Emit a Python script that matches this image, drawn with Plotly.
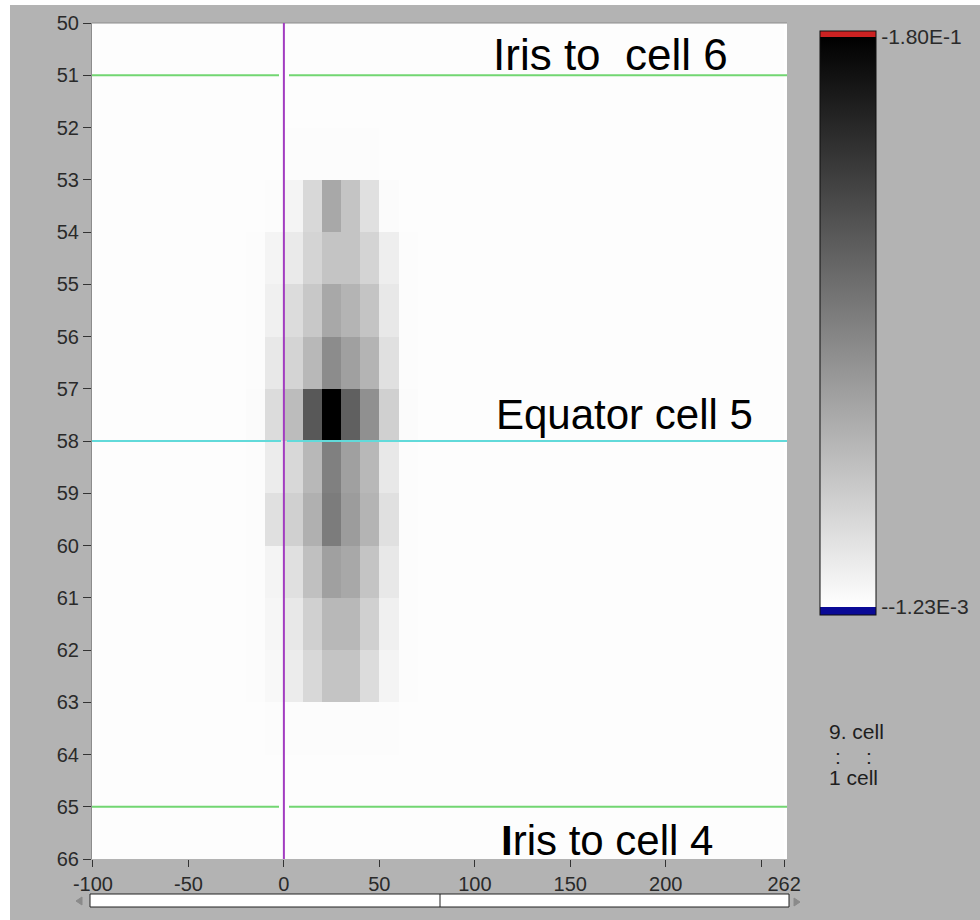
import numpy as np
import plotly.graph_objects as go

# ---------------- data ----------------
x_edges = list(range(-100, 261, 10)) + [262]          # column bin edges
y_edges = list(range(50, 67))                          # row bin edges (cells)
y_ticks = list(range(50, 67))
x_tickvals = [-100, -50, 0, 50, 100, 150, 200, 250, 262]
x_ticktext = ["-100", "-50", "0", "50", "100", "150", "200", "", "262"]

background_level = 0.0004
core_cols = [-20, -10, 0, 10, 20, 30, 40, 50, 60]       # left edge of each core column
core_rows = [52, 53, 54, 55, 56, 57, 58, 59, 60, 61, 62, 63]
core_values = [
    [0.0004, 0.0004, 0.0005, 0.0006, 0.0006, 0.0006, 0.0005, 0.0004, 0.0004],
    [0.0004, 0.0006, 0.0066, 0.0265, 0.0606, 0.0407, 0.0208, 0.0018, 0.0004],
    [0.0008, 0.0066, 0.0137, 0.0293, 0.0407, 0.0407, 0.0293, 0.0108, 0.0008],
    [0.0008, 0.0094, 0.0236, 0.0378, 0.0606, 0.0521, 0.0407, 0.0151, 0.0008],
    [0.0010, 0.0151, 0.0293, 0.0492, 0.0805, 0.0663, 0.0521, 0.0208, 0.0010],
    [0.0012, 0.0236, 0.0464, 0.1175, 0.1800, 0.1118, 0.0776, 0.0322, 0.0012],
    [0.0010, 0.0123, 0.0265, 0.0492, 0.0890, 0.0663, 0.0492, 0.0151, 0.0010],
    [0.0010, 0.0208, 0.0322, 0.0549, 0.0919, 0.0691, 0.0521, 0.0208, 0.0010],
    [0.0008, 0.0066, 0.0208, 0.0435, 0.0663, 0.0606, 0.0407, 0.0151, 0.0008],
    [0.0006, 0.0052, 0.0151, 0.0322, 0.0492, 0.0492, 0.0322, 0.0094, 0.0006],
    [0.0006, 0.0037, 0.0123, 0.0265, 0.0407, 0.0407, 0.0236, 0.0066, 0.0006],
    [0.0004, 0.0005, 0.0006, 0.0008, 0.0009, 0.0009, 0.0008, 0.0005, 0.0004],
]
scale_max = 0.18
scale_min = -0.00123
scale_labels = ["-1.80E-1", "--1.23E-3"]

# ---------------- build grid ----------------
n_rows = len(y_edges) - 1
n_cols = len(x_edges) - 1
z = np.full((n_rows, n_cols), background_level)
for i, r in enumerate(core_rows):
    for j, c in enumerate(core_cols):
        z[r - y_edges[0], x_edges.index(c)] = core_values[i][j]

# ---------------- geometry helpers ----------------
L, R, T, B = 92, 787, 23, 859
W, H = R - L, B - T
X0, X1 = -100.5, 263.5


def px(x):
    return (x - L) / W


def py(y):
    return 1 - (y - T) / H


def dx(x):
    return X0 + (x - L) * (X1 - X0) / W


def dy(y):
    return 50 + (y - T) * 16 / H


# colour bar geometry: bar 31..615 px; data max at 37, min at 607
cb_top, cb_bot = 31, 615
per_px = (scale_max - scale_min) / (607 - 37)
cmax = scale_max + (37 - cb_top) * per_px
cmin = scale_min - (cb_bot - 607) * per_px
f_hi = (scale_max - cmin) / (cmax - cmin) + 0.0008
f_lo = (scale_min - cmin) / (cmax - cmin) - 0.0008
colorscale = [
    [0.0, "#0a0a96"], [f_lo, "#0a0a96"],
    [f_lo + 0.0001, "#ffffff"],
    [f_hi - 0.0001, "#000000"],
    [f_hi, "#cc2222"], [1.0, "#cc2222"],
]

FAM = "Liberation Sans, Arial, sans-serif"
tick_font = dict(family=FAM, size=20, color="#2a2a2a")
cb_font = dict(family=FAM, size=21, color="#2a2a2a")

fig = go.Figure()
fig.add_trace(go.Heatmap(
    x=x_edges, y=y_edges, z=z,
    zmin=cmin, zmax=cmax, colorscale=colorscale,
    hoverinfo="skip",
    colorbar=dict(
        thickness=56, thicknessmode="pixels",
        len=cb_bot - cb_top, lenmode="pixels",
        x=px(820), xanchor="left", xpad=0,
        y=py(cb_top), yanchor="top", ypad=0,
        outlinecolor="#111111", outlinewidth=1,
        tickvals=[scale_max, scale_min], ticktext=scale_labels,
        ticks="", ticklen=0, tickfont=cb_font,
    ),
))

shapes = []
# white strips at top and left of the window
shapes.append(dict(type="rect", xref="paper", yref="paper", x0=px(0), x1=px(980), y0=py(5), y1=py(0),
                   fillcolor="white", line=dict(width=0), layer="below"))
shapes.append(dict(type="rect", xref="paper", yref="paper", x0=px(0), x1=px(10), y0=py(920), y1=py(0),
                   fillcolor="white", line=dict(width=0), layer="below"))
# plot border (top)
shapes.append(dict(type="line", xref="paper", yref="paper", x0=0, x1=1, y0=1, y1=1,
                   line=dict(color="#8c8c8c", width=1)))
# green / cyan horizontal lines with a gap at x=0
for yy, col, gl, gr in [(51, "#72d672", 279, 289), (65, "#72d672", 279, 289), (58, "#62dada", 281, 287)]:
    shapes.append(dict(type="line", xref="x", yref="y", x0=X0, x1=dx(gl), y0=yy, y1=yy,
                       line=dict(color=col, width=2)))
    shapes.append(dict(type="line", xref="x", yref="y", x0=dx(gr), x1=X1, y0=yy, y1=yy,
                       line=dict(color=col, width=2)))
# magenta vertical line at x = 0
shapes.append(dict(type="line", xref="x", yref="y", x0=0, x1=0, y0=50, y1=66,
                   line=dict(color="#a23cc0", width=2)))
# scrollbar
shapes.append(dict(type="rect", xref="paper", yref="paper", x0=px(90), x1=px(789), y0=py(907), y1=py(894),
                   fillcolor="white", line=dict(color="#222222", width=1)))
shapes.append(dict(type="line", xref="paper", yref="paper", x0=px(440), x1=px(440), y0=py(907), y1=py(894),
                   line=dict(color="#222222", width=1)))
shapes.append(dict(type="path", xref="paper", yref="paper",
                   path=f"M {px(76)} {py(901)} L {px(82)} {py(897)} L {px(82)} {py(905)} Z",
                   fillcolor="#8a8a8a", line=dict(color="#8a8a8a", width=1)))
shapes.append(dict(type="path", xref="paper", yref="paper",
                   path=f"M {px(800)} {py(902)} L {px(794)} {py(898)} L {px(794)} {py(906)} Z",
                   fillcolor="#8a8a8a", line=dict(color="#8a8a8a", width=1)))

big_top = dict(family=FAM, size=44, color="black")
big_font = dict(family=FAM, size=42, color="black")
small_font = dict(family=FAM, size=21, color="#1e1e1e")
annotations = [
    dict(x=dx(491), y=dy(54), xref="x", yref="y", text="Iris to\u00a0 cell 6",
         showarrow=False, xanchor="left", yanchor="middle", font=big_top),
    dict(x=dx(494), y=dy(414), xref="x", yref="y", text="Equator cell 5",
         showarrow=False, xanchor="left", yanchor="middle", font=big_font),
    dict(x=dx(499), y=dy(840), xref="x", yref="y", text="<b>I</b>ris to cell 4",
         showarrow=False, xanchor="left", yanchor="middle", font=big_font),
    dict(x=px(827), y=py(731), xref="paper", yref="paper", text="9. cell",
         showarrow=False, xanchor="left", yanchor="middle", font=small_font),
    dict(x=px(838), y=py(756), xref="paper", yref="paper", text=":",
         showarrow=False, xanchor="center", yanchor="middle", font=small_font),
    dict(x=px(869), y=py(756), xref="paper", yref="paper", text=":",
         showarrow=False, xanchor="center", yanchor="middle", font=small_font),
    dict(x=px(827), y=py(777), xref="paper", yref="paper", text="1 cell",
         showarrow=False, xanchor="left", yanchor="middle", font=small_font),
]

fig.update_layout(
    width=980, height=920,
    margin=dict(l=L, r=980 - R, t=T, b=920 - B, pad=0),
    paper_bgcolor="#b3b3b3", plot_bgcolor="white",
    showlegend=False,
    shapes=shapes, annotations=annotations,
    xaxis=dict(range=[X0, X1], tickvals=x_tickvals, ticktext=x_ticktext,
               ticks="outside", ticklen=7, tickcolor="#333333", tickwidth=1,
               showgrid=False, zeroline=False, showline=False, tickfont=tick_font),
    yaxis=dict(range=[66, 50], tickvals=y_ticks, ticks="outside", ticklen=8,
               tickcolor="#333333", tickwidth=1, showgrid=False, zeroline=False,
               showline=True, linecolor="#8c8c8c", linewidth=1, tickfont=tick_font),
)

fig.write_html("out.html")
